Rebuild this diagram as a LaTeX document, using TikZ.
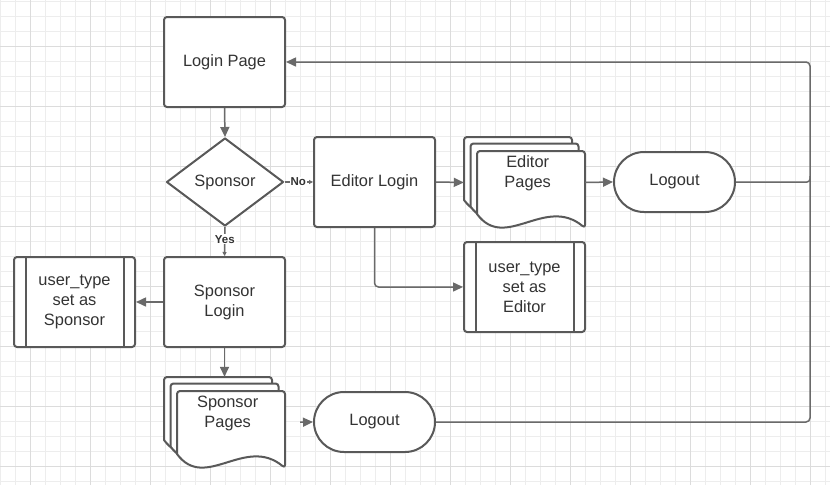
\documentclass[tikz,border=0pt]{standalone}
\usepackage{fontspec}
\setmainfont{Liberation Sans}
\usetikzlibrary{shapes.geometric,arrows.meta,calc}
\definecolor{strokec}{HTML}{595959}
\definecolor{connc}{HTML}{6A6A6A}
\definecolor{txtc}{HTML}{333333}
\definecolor{gridminor}{HTML}{EDEDED}
\definecolor{gridmajor}{HTML}{DCDCDC}
\newcommand{\mainfnt}{\fontsize{16.4}{20}\selectfont}
\newcommand{\lblfnt}{\bfseries\fontsize{11.5}{13}\selectfont}
% document outline with top-left corner (#1,#2), in pixel units
\newcommand{\docoutline}[2]{%
  \filldraw[docline, rounded corners=3pt] (#1,{#2+63}) -- (#1,#2) -- ({#1+108},#2) -- ({#1+108},{#2+77}) [sharp corners] .. controls ({#1+68},{#2+44}) and ({#1+28},{#2+101}) .. (#1,{#2+63}) -- cycle;}
\begin{document}
\begin{tikzpicture}[x=1pt,y=-1pt,line join=round,
  box/.style={draw=strokec, line width=2pt, fill=white, rounded corners=3pt, minimum width=121pt, minimum height=90pt, inner sep=0pt, align=center, text=txtc, font=\mainfnt},
  term/.style={box, rounded corners=30pt, minimum height=60pt},
  dec/.style={diamond, draw=strokec, line width=2pt, fill=white, minimum width=117pt, minimum height=88pt, inner sep=0pt, text=txtc, font=\mainfnt},
  docline/.style={draw=strokec, fill=white, line width=2pt},
  doctext/.style={align=center, text=txtc, font=\mainfnt, inner sep=0pt},
  area/.style={draw=none, fill=none, minimum width=121pt, minimum height=91pt, inner sep=0pt},
  predline/.style={draw=strokec, line width=2pt},
  conn/.style={draw=connc, line width=1.5pt},
  arr/.style={conn, -{Triangle[length=10pt,width=9pt]}},
  sarr/.style={conn, -{Triangle[length=4pt,width=4pt]}},
  lbl/.style={fill=white, inner sep=1pt, text=txtc, font=\lblfnt}]
\useasboundingbox (0,0) rectangle (830,485);
\fill[white] (0,0) rectangle (830,485);
% grid
\foreach \k in {0,...,55} \draw[gridminor, line width=0.8pt] ({\k*15},0) -- ({\k*15},485);
\foreach \k in {0,...,32} \draw[gridminor, line width=0.8pt] (0,{1.7+\k*15}) -- (830,{1.7+\k*15});
\foreach \k in {0,...,13} \draw[gridmajor, line width=0.9pt] ({30+\k*60},0) -- ({30+\k*60},485);
\foreach \k in {0,...,7} \draw[gridmajor, line width=0.9pt] (0,{46.7+\k*60}) -- (830,{46.7+\k*60});

% nodes
\node[box] (login) at (224.5,62) {Login Page};
\node[dec] (sq) at (225,182) {Sponsor};
\node[box] (elogin) at (374.5,182) {Editor Login};
\node[box] (slogin) at (224.5,302) {Sponsor\\Login};
\node[box] (usp) at (74.5,302) {user\_type\\set as\\Sponsor};
\draw[predline] ($(usp.north west)+(12.5,0)$) -- ($(usp.south west)+(12.5,0)$);
\draw[predline] ($(usp.north east)+(-12.5,0)$) -- ($(usp.south east)+(-12.5,0)$);
\node[box] (ued) at (524.5,287) {user\_type\\set as\\Editor};
\draw[predline] ($(ued.north west)+(12.5,0)$) -- ($(ued.south west)+(12.5,0)$);
\draw[predline] ($(ued.north east)+(-12.5,0)$) -- ($(ued.south east)+(-12.5,0)$);
\node[term] (elogout) at (674.5,182) {Logout};
\node[term] (slogout) at (374.5,422) {Logout};

% document stacks
\docoutline{464}{137}\docoutline{470.5}{143.5}\docoutline{477}{151}
\node[area] (epages) at (524.5,182.5) {};
\node[doctext] (eptext) at (527.7,173.5) {Editor\\Pages};
\docoutline{164}{377}\docoutline{170.5}{383.5}\docoutline{177}{391}
\node[area] (spages) at (224.5,422.5) {};
\node[doctext] (sptext) at (227.7,413.5) {Sponsor\\Pages};

% connectors
\draw[arr] (login.south) -- (sq.north);
\draw[sarr] (sq.east) -- node[lbl, pos=0.48] {No} (elogin.west);
\draw[sarr] (sq.south) -- node[lbl, pos=0.42] {Yes} (slogin.north);
\draw[arr] (slogin.west) -- (usp.east);
\draw[arr] (slogin.south) -- (spages.north);
\draw[arr] (elogin.east) -- (epages.west);
\draw[arr] (epages.east) -- (elogout.west);
\draw[arr, rounded corners=4pt] (elogin.south) |- (ued.west);
\draw[arr, shorten <=15pt] (spages.east) -- (slogout.west);
\coordinate (rb) at (810,422);
\coordinate (rt) at (810,62);
\draw[arr, rounded corners=4pt] (slogout.east) -- (slogout.east -| rb) -- (rt) -- (login.east);
\draw[conn, rounded corners=3pt] (elogout.east) -- (elogout.east -| rt) -- ($(elogout.east -| rt)+(0,-6)$);
\end{tikzpicture}
\end{document}
